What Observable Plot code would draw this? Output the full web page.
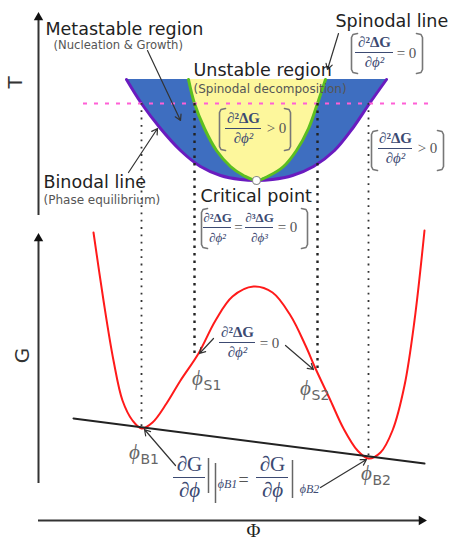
<!DOCTYPE html>
<html><head><meta charset="utf-8">
<script src="https://cdn.jsdelivr.net/npm/d3@7"></script>
<script src="https://cdn.jsdelivr.net/npm/@observablehq/plot@0.6"></script>
<style>body{margin:0;background:#fff} svg{display:block}</style>
</head><body><div id="chart"></div>
<script>
// ---- Phase diagram (T vs φ) : binodal and spinodal envelopes ----
const binodalT = [79, 103, 128, 150, 166, 175, 179, 180];
const binodalL = [126, 141, 160, 180, 200, 220, 240, 256];
const binodalR = [386, 369, 352, 334, 313, 292, 272, 256];
const spinodalT = [79, 103, 128, 150, 166, 175, 180];
const spinodalL = [188, 194, 204, 216, 230, 243, 256];
const spinodalR = [325, 317, 308, 296, 283, 269, 256];
const quenchT = 103;               // dashed temperature line
const criticalPoint = {phi: 256, T: 180};

// ---- Free energy curve G(φ) ----
const gPhi = [93, 103, 113, 122, 132, 141, 152, 166, 180, 198, 215, 232, 253, 272, 290, 305, 315, 330, 343, 357, 368, 380, 392, 404, 414, 424];
const gVal = [232, 300, 360, 400, 420, 428, 422, 403, 380, 353, 320, 296, 286, 292, 315, 345, 368, 400, 428, 450, 458, 452, 430, 385, 320, 230];
const tangentPhi = [73, 424];
const tangentG = [418, 463];

// ---- special compositions (dotted guides) ----
const guideNames = ["B1", "S1", "S2", "B2"];
const guidePhi = [141, 194, 317, 368];
const guideEnd = [428, 353, 368, 457];

// ---- text ----
const labelText = ["Metastable region", "(Nucleation & Growth)", "Unstable region", "(Spinodal decomposition)", "Spinodal line", "Binodal line", "(Phase equilibrium)", "Critical point"];
const labelX = [45, 53, 193, 193, 335, 43, 43, 200];
const labelY = [28.5, 44.5, 70, 88.5, 21, 182, 200, 196];
const labelSize = [17.5, 11.6, 17.5, 12, 17.5, 17.5, 12, 17.5];
const labelColor = ["#222", "#555", "#222", "#555", "#222", "#222", "#555", "#222"];

const fracNum = ["∂²ΔG", "∂²ΔG", "∂²ΔG", "∂²ΔG", "∂³ΔG", "∂²ΔG", "∂G", "∂G"];
const fracDen = ["∂ϕ²", "∂ϕ²", "∂ϕ²", "∂ϕ²", "∂ϕ³", "∂ϕ²", "∂ϕ", "∂ϕ"];
const fracX = [374, 243, 395, 217, 259, 237, 189, 272];
const fracY = [52, 128, 148, 227, 227, 342, 477, 477];
const fracHalf = [19, 18, 17, 14, 14, 18, 16, 16];
const fracSize = [15, 15, 15, 13, 13, 15, 21, 21];
const fracGap = [10, 10, 10, 10, 10, 10, 13, 13];

const relText = ["= 0", "> 0", "> 0", "=", "= 0", "= 0", "="];
const relX = [406, 276, 427, 238, 287, 269, 243];
const relY = [53, 128, 148, 227, 227, 343, 480];

const bracketX = [351, 422, 219, 290, 371, 443, 201, 307];
const bracketTop = [33, 33, 108, 108, 130, 130, 208, 208];
const bracketBot = [73, 73, 150, 150, 170, 170, 248, 248];
const bracketSide = [1, -1, 1, -1, 1, -1, 1, -1];

const evalX = [208, 215, 292];
const evalTop = [458, 463, 460];
const evalBot = [493, 503, 498];
const evalSub = ["ϕB1", "ϕB2"];
const evalSubX = [227, 309];
const evalSubY = [484, 489];

const phiNames = ["S1", "S2", "B1", "B2"];
const phiX = [197, 305, 134, 366];
const phiY = [378, 388, 452, 473];

const arrowX1 = [147, 338, 128, 213, 285, 175, 320];
const arrowY1 = [50, 33, 172, 338, 345, 465, 487];
const arrowX2 = [180, 327, 157, 199, 313, 144, 366];
const arrowY2 = [120, 69, 128, 353, 369, 429, 459];

const axisNames = ["T", "G", "Φ"];

// ---- build tables ----
const binodalRows = binodalT.map((t, i) => ({T: t, l: binodalL[i], r: binodalR[i]}));
const spinodalRows = spinodalT.map((t, i) => ({T: t, l: spinodalL[i], r: spinodalR[i]}));
const binodalLine = [...binodalRows.map(d => ({phi: d.l, T: d.T})), ...binodalRows.slice(0, -1).reverse().map(d => ({phi: d.r, T: d.T}))];
const spinodalLine = [...spinodalRows.map(d => ({phi: d.l, T: d.T})), ...spinodalRows.slice(0, -1).reverse().map(d => ({phi: d.r, T: d.T}))];
const gCurve = gPhi.map((p, i) => ({phi: p, G: gVal[i]}));
const guides = guideNames.map((n, i) => ({n, phi: guidePhi[i], end: guideEnd[i], spin: n[0] === "S"}));
const labels = labelText.map((t, i) => ({t, x: labelX[i], y: labelY[i], s: labelSize[i], c: labelColor[i]}));
const fracs = fracNum.map((n, i) => ({n, d: fracDen[i], x: fracX[i], y: fracY[i], h: fracHalf[i], s: fracSize[i], g: fracGap[i], bold: n.includes("Δ")}));
const rels = relText.map((t, i) => ({t, x: relX[i], y: relY[i], s: i === 6 ? 18 : 15}));
const brackets = bracketX.flatMap((x, i) => {
  const s = bracketSide[i], t = bracketTop[i], b = bracketBot[i];
  return [[x + 6 * s, t], [x + 1.5 * s, t + 1], [x, t + 4], [x, b - 4], [x + 1.5 * s, b - 1], [x + 6 * s, b]].map(([px, py]) => ({id: i, x: px, y: py}));
});
const evals = evalX.map((x, i) => ({x, y1: evalTop[i], y2: evalBot[i]}));
const evalSubs = evalSub.map((t, i) => ({t, x: evalSubX[i], y: evalSubY[i]}));
const phis = phiNames.map((n, i) => ({n, x: phiX[i], y: phiY[i]}));
const arrows = arrowX1.map((x1, i) => ({x1, y1: arrowY1[i], x2: arrowX2[i], y2: arrowY2[i]}));

const serif = "'Liberation Serif','DejaVu Serif',serif";
const sans = "'DejaVu Sans',sans-serif";
const eqColor = "#3c4a72";

const chart = Plot.plot({
  width: 457, height: 542, margin: 0,
  x: {domain: [0, 457], axis: null},
  y: {domain: [0, 542], range: [0, 542], axis: null},
  style: {background: "#fff"},
  marks: [
    // regions
    Plot.areaX(binodalRows, {y: "T", x1: "l", x2: "r", fill: "#3e6ec0", curve: "catmull-rom"}),
    Plot.areaX(spinodalRows, {y: "T", x1: "l", x2: "r", fill: "#fdf79c", curve: "catmull-rom"}),
    Plot.line(binodalLine, {x: "phi", y: "T", stroke: "#6a1bbf", strokeWidth: 3, curve: "catmull-rom"}),
    Plot.line(spinodalLine, {x: "phi", y: "T", stroke: "#5cbf1f", strokeWidth: 3, curve: "catmull-rom"}),
    // dashed temperature line
    Plot.ruleY([quenchT], {x1: 83, x2: 432, stroke: "#ff5fd6", strokeWidth: 2, strokeDasharray: "4,7"}),
    // dotted guides
    Plot.ruleX(guides.filter(d => d.spin), {x: "phi", y1: quenchT, y2: "end", stroke: "#222", strokeWidth: 2.4, strokeDasharray: "2.5,5"}),
    Plot.ruleX(guides.filter(d => !d.spin), {x: "phi", y1: quenchT, y2: "end", stroke: "#333", strokeWidth: 1.8, strokeDasharray: "1.8,5.5"}),
    Plot.dot([criticalPoint], {x: "phi", y: "T", r: 4, fill: "#fff", stroke: "#888", strokeWidth: 1.2}),
    // G curve and common tangent
    Plot.line(gCurve, {x: "phi", y: "G", stroke: "#ff1a1a", strokeWidth: 2, curve: "catmull-rom"}),
    Plot.line(tangentPhi.map((p, i) => ({phi: p, G: tangentG[i]})), {x: "phi", y: "G", stroke: "#222", strokeWidth: 2}),
    // axes
    Plot.ruleX([38], {y1: 16, y2: 215, stroke: "#333", strokeWidth: 2}),
    Plot.ruleX([38], {y1: 237, y2: 483, stroke: "#333", strokeWidth: 2}),
    Plot.ruleY([520], {x1: 38, x2: 420, stroke: "#333", strokeWidth: 2}),
    Plot.dot([{x: 38, y: 17}, {x: 38, y: 238}], {x: "x", y: "y", symbol: "triangle2", r: 4.5, fill: "#111"}),
    Plot.dot([{x: 421, y: 520}], {x: "x", y: "y", symbol: "triangle2", r: 4.5, fill: "#111", rotate: 90}),
    Plot.text([axisNames[0]], {x: 15, y: 82, text: d => d, rotate: -90, fontSize: 20, fontFamily: sans, fill: "#333"}),
    Plot.text([axisNames[1]], {x: 22, y: 355, text: d => d, rotate: -90, fontSize: 20, fontFamily: sans, fill: "#333"}),
    Plot.text([axisNames[2]], {x: 253, y: 530, text: d => d, fontSize: 19, fontFamily: serif, fill: "#222"}),
    // annotation arrows
    Plot.arrow(arrows, {x1: "x1", y1: "y1", x2: "x2", y2: "y2", stroke: "#333", strokeWidth: 1.2, headLength: 8}),
    // labels
    Plot.text(labels, {x: "x", y: "y", text: "t", textAnchor: "start", fontSize: "s", fill: "c", fontFamily: sans}),
    // brackets
    Plot.line(brackets, {x: "x", y: "y", z: "id", stroke: "#777", strokeWidth: 1.6}),
    // fractions
    Plot.ruleY(fracs, {y: "y", x1: d => d.x - d.h, x2: d => d.x + d.h, stroke: eqColor, strokeWidth: 1}),
    Plot.text(fracs.filter(d => d.bold), {x: "x", y: d => d.y - d.g, text: "n", fontSize: "s", fontFamily: serif, fontWeight: 600, fill: eqColor}),
    Plot.text(fracs.filter(d => !d.bold), {x: "x", y: d => d.y - d.g, text: "n", fontSize: "s", fontFamily: serif, fill: eqColor}),
    Plot.text(fracs, {x: "x", y: d => d.y + d.g, text: "d", fontSize: "s", fontFamily: serif, fontStyle: "italic", fill: eqColor}),
    Plot.text(rels, {x: "x", y: "y", text: "t", fontSize: "s", fontFamily: serif, fill: "#555"}),
    Plot.ruleX(evals, {x: "x", y1: "y1", y2: "y2", stroke: "#666", strokeWidth: 1.5}),
    Plot.text(evalSubs, {x: "x", y: "y", text: "t", fontSize: 12, fontFamily: serif, fontStyle: "italic", fill: eqColor}),
    // φ labels
    Plot.text(phis, {x: "x", y: "y", text: () => "ϕ", fontSize: 21, fontFamily: serif, fontStyle: "italic", fill: "#666"}),
    Plot.text(phis, {x: d => d.x + 6, y: d => d.y + 7, text: "n", textAnchor: "start", fontSize: 14, fontFamily: sans, fill: "#666"})
  ]
});
document.getElementById("chart").append(chart);
</script>
</body></html>
